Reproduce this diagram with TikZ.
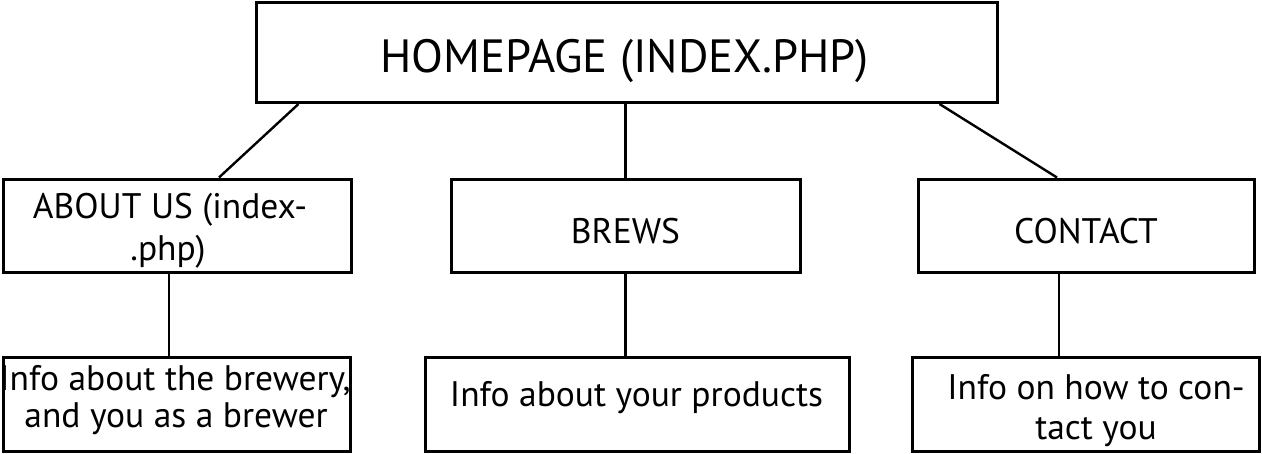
\documentclass[tikz,border=0pt]{standalone}
\usepackage{fontspec}
\setmainfont{PT Sans}
\begin{document}
\begin{tikzpicture}[x=1pt,y=-1pt,
  pagebox/.style={draw, rectangle, line width=3pt, inner sep=0pt},
  link/.style={line width=2.4pt},
  bigtxt/.style={anchor=base, inner sep=0pt, font=\fontsize{46.6}{50}\selectfont},
  txt/.style={anchor=base, inner sep=0pt, font=\fontsize{35.5}{40}\selectfont}]
\useasboundingbox (0,0) rectangle (1262,453);

% page boxes
\node[pagebox, minimum width=741pt, minimum height=100pt] (home) at (626.5,52.5) {};
\node[pagebox, minimum width=348pt, minimum height=93pt] (about) at (177,225.5) {};
\node[pagebox, minimum width=349pt, minimum height=93pt] (brews) at (625.5,225.5) {};
\node[pagebox, minimum width=336pt, minimum height=93pt] (contact) at (1086,225.5) {};
\node[pagebox, minimum width=347pt, minimum height=93.5pt] (infoA) at (176.5,404.25) {};
\node[pagebox, minimum width=424pt, minimum height=93.5pt] (infoB) at (637,404.25) {};
\node[pagebox, minimum width=347pt, minimum height=93.5pt] (infoC) at (1085.5,404.25) {};

% labels
\node[bigtxt] (thome) at (624.5,72) {HOMEPAGE (INDEX.PHP)};
\node[txt] (tabout1) at (170,218) {ABOUT US (index-};
\node[txt] (tabout2) at (168,260) {.php)};
\node[txt] (tbrews) at (625.5,243) {BREWS};
\node[txt] (tcontact) at (1086,243) {CONTACT};
\node[txt] (tinfoA1) at (175,390) {Info about the brewery,};
\node[txt] (tinfoA2) at (176,427) {and you as a brewer};
\node[txt] (tinfoB) at (636.5,406) {Info about your products};
\node[txt] (tinfoC1) at (1096,399) {Info on how to con-};
\node[txt] (tinfoC2) at (1096,439) {tact you};

% connectors
\draw[link] ([xshift=44pt]home.south west) -- ([xshift=42pt]about.north);
\draw[link] (home.south -| brews.north) -- (brews.north);
\draw[link] ([xshift=-59pt]home.south east) -- ([xshift=-29pt]contact.north);
\draw[link] ([xshift=-8pt]about.south) -- ([xshift=-8pt]about.south |- infoA.north);
\draw[link] (brews.south) -- (brews.south |- infoB.north);
\draw[link] ([xshift=-27pt]contact.south) -- ([xshift=-27pt]contact.south |- infoC.north);
\end{tikzpicture}
\end{document}
